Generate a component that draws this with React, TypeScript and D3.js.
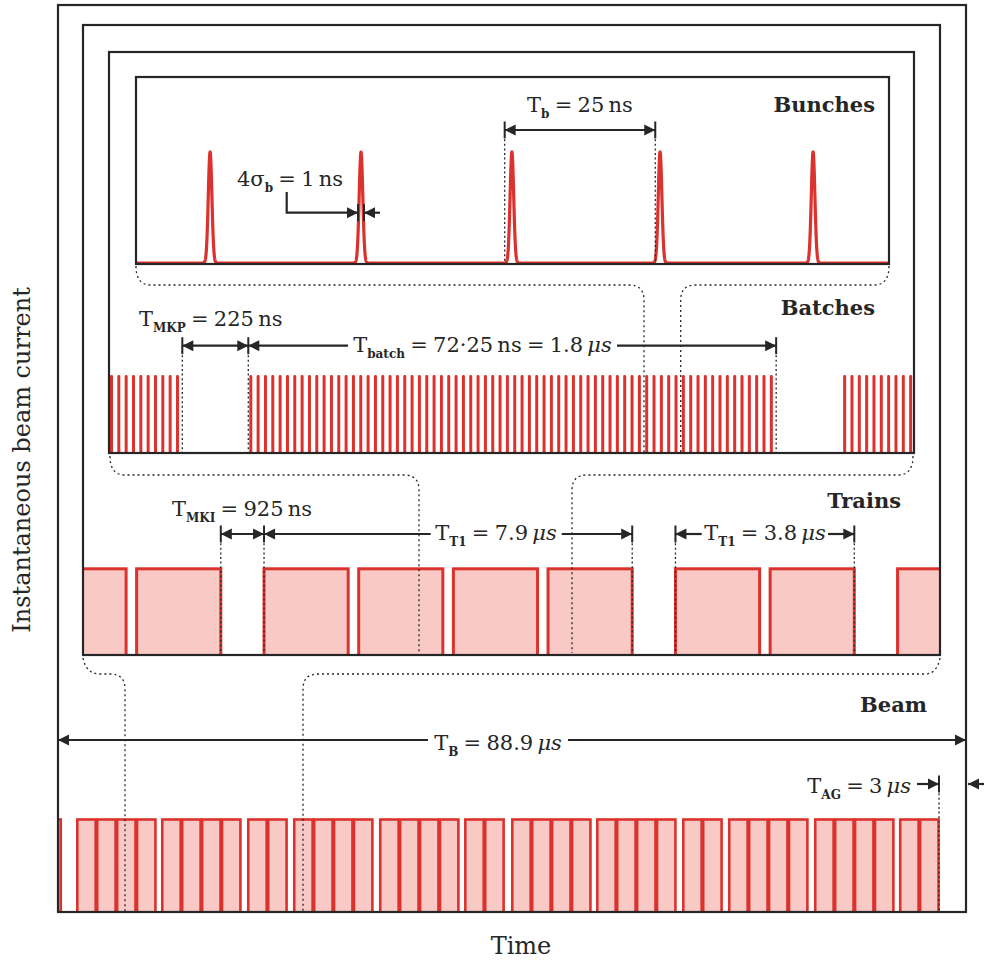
import React from "react";
import * as d3 from "d3";

const W = 984;
const H = 965;
const RED = "#dc322d";
const PINK = "#f9c9c5";
const INK = "#262626";
const FONT = "'DejaVu Serif', serif";

// Bunches panel, time in ns
const bunchCentres = [12.3, 37.35, 62.4, 87.0, 112.4];
const bunchSigma = 0.3;

// Batches panel, time in ns (first bunch of each batch)
const batchStarts = [-1550, 475, 2500];
const bunchesPerBatch = 72;
const bunchSpacing = 25;

// Trains panel, time in ns (start of each batch)
const trainBatchStarts = [-878, 1147, 3872, 5897, 7922, 9947, 12672, 14697, 17422];
const batchLength = 1800;

// Beam panel, time in µs (start of each train and its number of batches)
const beamTrainStarts = [-3.48, 1.89, 10.21, 18.63, 23.13, 31.55, 39.88, 44.48, 52.8, 61.22, 65.72, 74.14, 82.46];
const beamTrainSizes = [2, 4, 4, 2, 4, 4, 2, 4, 4, 2, 4, 4, 2];
const beamBatchLength = 1.8;
const beamBatchPitch = 1.95;

const frames = [
  { id: "beam", x0: 58, y0: 5, x1: 966, y1: 912 },
  { id: "trains", x0: 83, y0: 25, x1: 940, y1: 655 },
  { id: "batches", x0: 109, y0: 52, x1: 914, y1: 453 },
  { id: "bunches", x0: 136, y0: 77, x1: 889, y1: 264 },
];

const xBunch = d3.scaleLinear().domain([0, 125]).range([136, 889]);
const yBunch = d3.scaleLinear().domain([0, 1]).range([263, 152]);
const xBatch = d3.scaleLinear().domain([0, 2745]).range([109, 914]);
const yBatch = d3.scaleLinear().domain([0, 1]).range([453, 375]);
const xTrain = d3.scaleLinear().domain([0, 18330]).range([83, 940]);
const yTrain = d3.scaleLinear().domain([0, 1]).range([653, 568.8]);
const xBeam = d3.scaleLinear().domain([0, 88.9]).range([58, 966]);
const yBeam = d3.scaleLinear().domain([0, 1]).range([912, 819.5]);

type Part = { t: string; sub?: boolean; it?: boolean };

const EQ = "\u2005=\u2005";
const TH = "\u2009";

const MathText = ({ x, y, parts, anchor = "middle", size = 21 }: any) => {
  let shift = 0;
  const spans = parts.map((p: Part, i: number) => {
    const target = p.sub ? 5.5 : 0;
    const dy = target - shift;
    shift = target;
    return (
      <tspan
        key={i}
        dy={dy}
        fontSize={p.sub ? 12 : size}
        fontStyle={p.it ? "italic" : "normal"}
        fontWeight={p.sub ? "bold" : "normal"}
      >
        {p.t}
      </tspan>
    );
  });
  return (
    <text x={x} y={y} textAnchor={anchor} fontFamily={FONT} fontSize={size} fill={INK}>
      {spans}
    </text>
  );
};

const Head = ({ x, y, dir }: any) => {
  const hl = 11;
  const hw = 5.5;
  return (
    <path
      d={`M${x},${y}L${x - dir * hl},${y - hw}L${x - dir * hl},${y + hw}Z`}
      fill={INK}
    />
  );
};

const Tick = ({ x, y }: any) => (
  <line x1={x} x2={x} y1={y - 8.5} y2={y + 8.5} stroke={INK} strokeWidth={2} />
);

// dimension line: heads point outward to x1 / x2
const Dim = ({ x1, x2, y, h1, h2, t1, t2 }: any) => {
  const d = x2 > x1 ? 1 : -1;
  return (
    <g>
      <line x1={x1} x2={x2} y1={y} y2={y} stroke={INK} strokeWidth={2.2} />
      {h1 && <Head x={x1} y={y} dir={-d} />}
      {h2 && <Head x={x2} y={y} dir={d} />}
      {t1 && <Tick x={x1} y={y} />}
      {t2 && <Tick x={x2} y={y} />}
    </g>
  );
};

const Dotted = ({ x, y1, y2 }: any) => (
  <line x1={x} x2={x} y1={y1} y2={y2} stroke={INK} strokeWidth={1.3} strokeDasharray="2 2.6" />
);

const App = () => {
  const ts = d3.range(0, 125.0001, 0.02);
  const bunchLine = d3
    .line<number>()
    .x((t) => xBunch(t))
    .y((t) =>
      yBunch(d3.sum(bunchCentres, (c) => Math.exp(-0.5 * ((t - c) / bunchSigma) ** 2)))
    );

  const batchBunches = batchStarts
    .flatMap((s) => d3.range(bunchesPerBatch).map((k) => s + k * bunchSpacing))
    .filter((t) => t >= 0 && t <= 2740);

  const beamBatches = beamTrainStarts.flatMap((s, i) =>
    d3.range(beamTrainSizes[i]).map((k) => s + k * beamBatchPitch)
  );

  const conn = { stroke: INK, strokeWidth: 1.3, strokeDasharray: "2 3", fill: "none" };

  // dimension positions in data units
  const tbL = xBunch(61.2);
  const tbR = xBunch(86.2);
  const sigL = xBunch(bunchCentres[1] - 0.5);
  const sigR = xBunch(bunchCentres[1] + 0.5);
  const mkpL = xBatch(250);
  const mkpR = xBatch(475);
  const batchR = xBatch(475 + bunchesPerBatch * bunchSpacing);
  const mkiL = xTrain(1147 + batchLength);
  const mkiR = xTrain(3872);
  const t79R = xTrain(9947 + batchLength);
  const t38L = xTrain(12672);
  const t38R = xTrain(14697 + batchLength);
  const agL = xBeam(82.46 + beamBatchPitch + beamBatchLength) + 0.5;

  return (
    <svg
      width={W}
      height={H}
      style={{ position: "absolute", left: 0, top: 0, background: "#fff" }}
      fontFamily={FONT}
    >
      <defs>
        <clipPath id="clipBeam">
          <rect x={58} y={0} width={908} height={912} />
        </clipPath>
        <clipPath id="clipTrain">
          <rect x={83} y={0} width={857} height={655} />
        </clipPath>
      </defs>

      {/* beam */}
      <g clipPath="url(#clipBeam)">
        {beamBatches.map((s, i) => (
          <rect
            key={i}
            x={xBeam(s)}
            y={yBeam(1)}
            width={xBeam(s + beamBatchLength) - xBeam(s)}
            height={yBeam(0) - yBeam(1) + 2}
            fill={PINK}
            stroke={RED}
            strokeWidth={2.6}
          />
        ))}
      </g>

      {/* trains */}
      <g clipPath="url(#clipTrain)">
        {trainBatchStarts.map((s, i) => (
          <rect
            key={i}
            x={xTrain(s)}
            y={yTrain(1)}
            width={xTrain(s + batchLength) - xTrain(s)}
            height={yTrain(0) - yTrain(1) + 3}
            fill={PINK}
            stroke={RED}
            strokeWidth={3}
          />
        ))}
      </g>

      {/* batches */}
      {batchBunches.map((t, i) => (
        <rect
          key={i}
          x={xBatch(t) + 1}
          y={yBatch(1)}
          width={3}
          height={yBatch(0) - yBatch(1)}
          rx={1.4}
          fill={RED}
        />
      ))}

      {/* bunches */}
      <path d={bunchLine(ts) || ""} fill="none" stroke={RED} strokeWidth={3.2} strokeLinejoin="round" />

      {/* frames */}
      {frames.map((f) => (
        <rect
          key={f.id}
          x={f.x0}
          y={f.y0}
          width={f.x1 - f.x0}
          height={f.y1 - f.y0}
          fill="none"
          stroke={INK}
          strokeWidth={2.2}
        />
      ))}

      {/* zoom connectors */}
      <path d="M136,266Q136,285 151,285H629Q644,285 644,300V453" {...conn} />
      <path d="M889,266Q889,285 874,285H695.7Q680.7,285 680.7,300V453" {...conn} />
      <path d="M110,456Q110,475 125,475H404Q419,475 419,490V653" {...conn} />
      <path d="M913,456Q913,475 898,475H587Q572,475 572,490V653" {...conn} />
      <path d="M83,658Q86,674 100,674H110Q125,674 125,689V912" {...conn} />
      <path d="M940,658Q937,674 925,674H318Q303,674 303,689V912" {...conn} />

      {/* bunches annotations */}
      <Dotted x={tbL} y1={130} y2={263} />
      <Dotted x={tbR} y1={130} y2={263} />
      <Dim x1={tbL} x2={tbR} y={130} h1 h2 t1 t2 />
      <MathText x={(tbL + tbR) / 2} y={112} parts={[{ t: "T" }, { t: "b", sub: true }, { t: `${EQ}25${TH}ns` }]} />
      <MathText x={237} y={186} anchor="start" parts={[{ t: "4σ" }, { t: "b", sub: true }, { t: `${EQ}1${TH}ns` }]} />
      <path d={`M286.7,192V212.7H${sigL}`} fill="none" stroke={INK} strokeWidth={2.2} />
      <Head x={sigL} y={212.7} dir={1} />
      <Tick x={sigL} y={212.7} />
      <Dim x1={380} x2={sigR} y={212.7} h2 t2 />

      {/* batches annotations */}
      <Dotted x={mkpL} y1={346} y2={453} />
      <Dotted x={mkpR} y1={346} y2={453} />
      <Dotted x={batchR} y1={346} y2={453} />
      <Dim x1={mkpL} x2={mkpR} y={345.7} h1 h2 t1 t2 />
      <Dim x1={348} x2={mkpR} y={345.7} h2 />
      <Dim x1={617} x2={batchR} y={345.7} h2 t2 />
      <MathText x={139} y={326} anchor="start" parts={[{ t: "T" }, { t: "MKP", sub: true }, { t: `${EQ}225${TH}ns` }]} />
      <MathText
        x={482.5}
        y={352}
        parts={[
          { t: "T" },
          { t: "batch", sub: true },
          { t: `${EQ}72·25${TH}ns${EQ}1.8${TH}` },
          { t: "μs", it: true },
        ]}
      />

      {/* trains annotations */}
      <Dotted x={mkiL} y1={534} y2={653} />
      <Dotted x={mkiR} y1={534} y2={653} />
      <Dotted x={t79R} y1={534} y2={653} />
      <Dotted x={t38L} y1={534} y2={653} />
      <Dotted x={t38R} y1={534} y2={653} />
      <Dim x1={mkiL} x2={mkiR} y={534} h1 h2 t1 t2 />
      <Dim x1={430.7} x2={mkiR} y={534} h2 />
      <Dim x1={561.7} x2={t79R} y={534} h2 t2 />
      <Dim x1={701.7} x2={t38L} y={534} h2 t2 />
      <Dim x1={828} x2={t38R} y={534} h2 t2 />
      <MathText x={172} y={516} anchor="start" parts={[{ t: "T" }, { t: "MKI", sub: true }, { t: `${EQ}925${TH}ns` }]} />
      <MathText x={496} y={540} parts={[{ t: "T" }, { t: "T1", sub: true }, { t: `${EQ}7.9${TH}` }, { t: "μs", it: true }]} />
      <MathText x={765} y={540} parts={[{ t: "T" }, { t: "T1", sub: true }, { t: `${EQ}3.8${TH}` }, { t: "μs", it: true }]} />

      {/* beam annotations */}
      <Dim x1={428} x2={xBeam(0)} y={740} h2 />
      <Dim x1={568} x2={xBeam(88.9)} y={740} h2 />
      <MathText x={498} y={750} parts={[{ t: "T" }, { t: "B", sub: true }, { t: `${EQ}88.9${TH}` }, { t: "μs", it: true }]} />
      <Dotted x={agL} y1={784} y2={912} />
      <Dim x1={917} x2={agL} y={784} h2 t2 />
      <Dim x1={986} x2={xBeam(88.9) + 2} y={784} h2 />
      <MathText x={911} y={793} anchor="end" parts={[{ t: "T" }, { t: "AG", sub: true }, { t: `${EQ}3${TH}` }, { t: "μs", it: true }]} />

      {/* panel titles */}
      <g fontFamily={FONT} fontWeight="bold" fontSize={21} fill={INK} textAnchor="end">
        <text x={875} y={112}>Bunches</text>
        <text x={875} y={315}>Batches</text>
        <text x={901} y={508}>Trains</text>
        <text x={927} y={712}>Beam</text>
      </g>

      {/* axis titles */}
      <text x={521} y={954} textAnchor="middle" fontSize={24} fill={INK} fontFamily={FONT}>
        Time
      </text>
      <text
        transform="translate(30,460) rotate(-90)"
        textAnchor="middle"
        fontSize={24}
        fill={INK}
        fontFamily={FONT}
      >
        Instantaneous beam current
      </text>
    </svg>
  );
};

export default App;
